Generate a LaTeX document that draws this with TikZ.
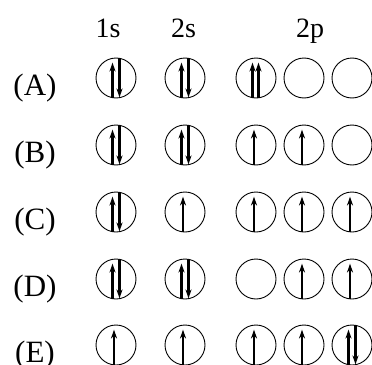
\documentclass[tikz,border=0pt]{standalone}
\usepackage{fontspec}
\setmainfont{Liberation Serif}
\usetikzlibrary{arrows.meta, calc}

\tikzset{
    orb/.style = {draw, circle, line width=0.9pt, minimum size=40pt, inner sep=0pt},
    spin/.style = {line width=2.2pt, -{Stealth[length=9pt, width=6pt]}},
    head/.style = {anchor=base, font=\fontsize{28}{32}\selectfont},
    lbl/.style = {anchor=base, font=\fontsize{31}{35}\selectfont},
}

% one arrow in an orbital, shifted sideways by the optional argument
\newcommand{\spinup}[2][-2pt]{\draw[spin] ($(#2.south)+(#1,0.8pt)$) -- ($(#2.north)+(#1,-5pt)$);}
\newcommand{\spindown}[2][0pt]{\draw[spin] ($(#2.north)+(#1,-0.8pt)$) -- ($(#2.south)+(#1,1pt)$);}
\newcommand{\spinpair}[1]{\spinup[-3.5pt]{#1} \spindown[3.5pt]{#1}}
\newcommand{\spinupup}[1]{\spinup[-3.5pt]{#1} \spinup[2.5pt]{#1}}

\begin{document}
\begin{tikzpicture}[x=1pt, y=-1pt]
    \useasboundingbox (0, 0) rectangle (372, 364);

    \node[head] (h1s) at (108, 37) {1s};
    \node[head] (h2s) at (183.5, 37) {2s};
    \node[head] (h2p) at (310, 37) {2p};

    \foreach \r/\y in {A/78, B/145, C/212, D/279, E/345} {
        \node[lbl] (lab\r) at (35, \y+17) {(\r)};
        \foreach \c/\x in {1/116, 2/185, 3/256, 4/304, 5/352}
            \node[orb] (o\r\c) at (\x, \y) {};
    }

    \spinpair{oA1} \spinpair{oA2} \spinupup{oA3}
    \spinpair{oB1} \spinpair{oB2} \spinup{oB3} \spinup{oB4}
    \spinpair{oC1} \spinup{oC2} \spinup{oC3} \spinup{oC4} \spinup{oC5}
    \spinpair{oD1} \spinpair{oD2} \spinup{oD4} \spinup{oD5}
    \spinup{oE1} \spinup{oE2} \spinup{oE3} \spinup{oE4} \spinpair{oE5}
\end{tikzpicture}
\end{document}
